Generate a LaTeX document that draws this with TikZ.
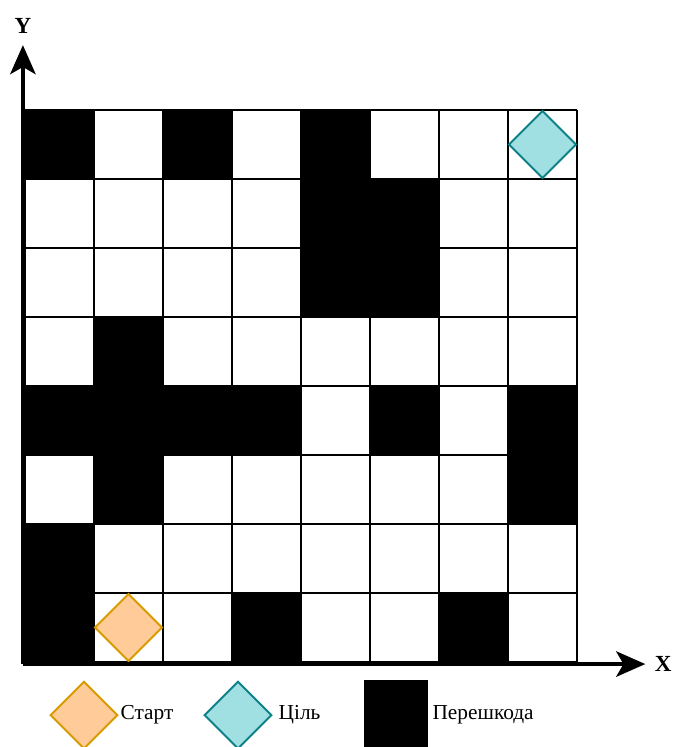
\documentclass[tikz,border=0pt]{standalone}
\usepackage{fontspec}
\setmainfont{Liberation Serif}
\usetikzlibrary{shapes.geometric,arrows.meta,positioning}
\tikzset{
myCell/.style={draw=black,line width=0.6pt}
, myWall/.style={fill=black,draw=black,line width=0.6pt}
, myStart/.style={
	diamond, draw=orange!50!brown, fill=orange!40!white, line width=0.8pt,
	inner sep=0pt, minimum width=0.98cm, minimum height=0.98cm
}
, myGoal/.style={
	diamond, draw=teal!80!cyan, fill=cyan!30!white, line width=0.8pt,
	inner sep=0pt, minimum width=0.98cm, minimum height=0.98cm
}
, myLabel/.style={font=\fontsize{8.8}{10}\selectfont, inner sep=0pt}
% axes
, myAxis/.style={-{Stealth[length=12pt,width=10.5pt,inset=3pt]},line width=1.4pt}
}
\definecolor{startfill}{HTML}{FFCC99}
\definecolor{startdraw}{HTML}{D79B00}
\definecolor{goalfill}{HTML}{A0E0E2}
\definecolor{goaldraw}{HTML}{0E8088}

\begin{document}
\begin{tikzpicture}
	\useasboundingbox (-0.362,-1.232) rectangle (9.391,9.594);
	% obstacles (col,row from bottom)
	\foreach \c/\r in {0/7,2/7,4/7, 4/6,5/6, 4/5,5/5, 1/4,
		0/3,1/3,2/3,3/3,5/3,7/3, 1/2,7/2, 0/1, 0/0,3/0,6/0}
		\fill[myWall] (\c,\r) rectangle ++(1,1);
	% grid
	\draw[myCell] (0,0) grid (8,8);

	% start / goal
	\node[myStart,fill=startfill,draw=startdraw] (Start) at (1.5,0.5) {};
	\node[myGoal,fill=goalfill,draw=goaldraw] (Goal) at (7.5,7.5) {};

	% axes
	\coordinate (O) at (-0.03,-0.03);
	\coordinate (Ytip) at (-0.03,8.94);
	\coordinate (Xtip) at (8.99,-0.03);
	\draw[myAxis] (O) -- (Ytip);
	\draw[myAxis] (O) -- (Xtip);
	\node[myLabel,font=\fontsize{9.5}{10}\selectfont\bfseries] (Ylab) at (-0.03,9.22) {Y};
	\node[myLabel,font=\fontsize{9.5}{10}\selectfont\bfseries] (Xlab) at (9.25,-0.03) {X};

	% legend
	\node[myStart,fill=startfill,draw=startdraw] (LStart) at (0.855,-0.77) {};
	\node[myLabel,anchor=west] (LStartT) at (1.38,-0.77) {Старт};
	\node[myGoal,fill=goalfill,draw=goaldraw] (LGoal) at (3.087,-0.77) {};
	\node[myLabel,anchor=west] (LGoalT) at (3.67,-0.77) {Ціль};
	\node[fill=black,inner sep=0pt,minimum width=0.93cm,minimum height=1.0cm,anchor=north west] (LWall) at (4.9,-0.26) {};
	\node[myLabel,anchor=west] (LWallT) at (5.9,-0.77) {Перешкода};
\end{tikzpicture}
\end{document}
